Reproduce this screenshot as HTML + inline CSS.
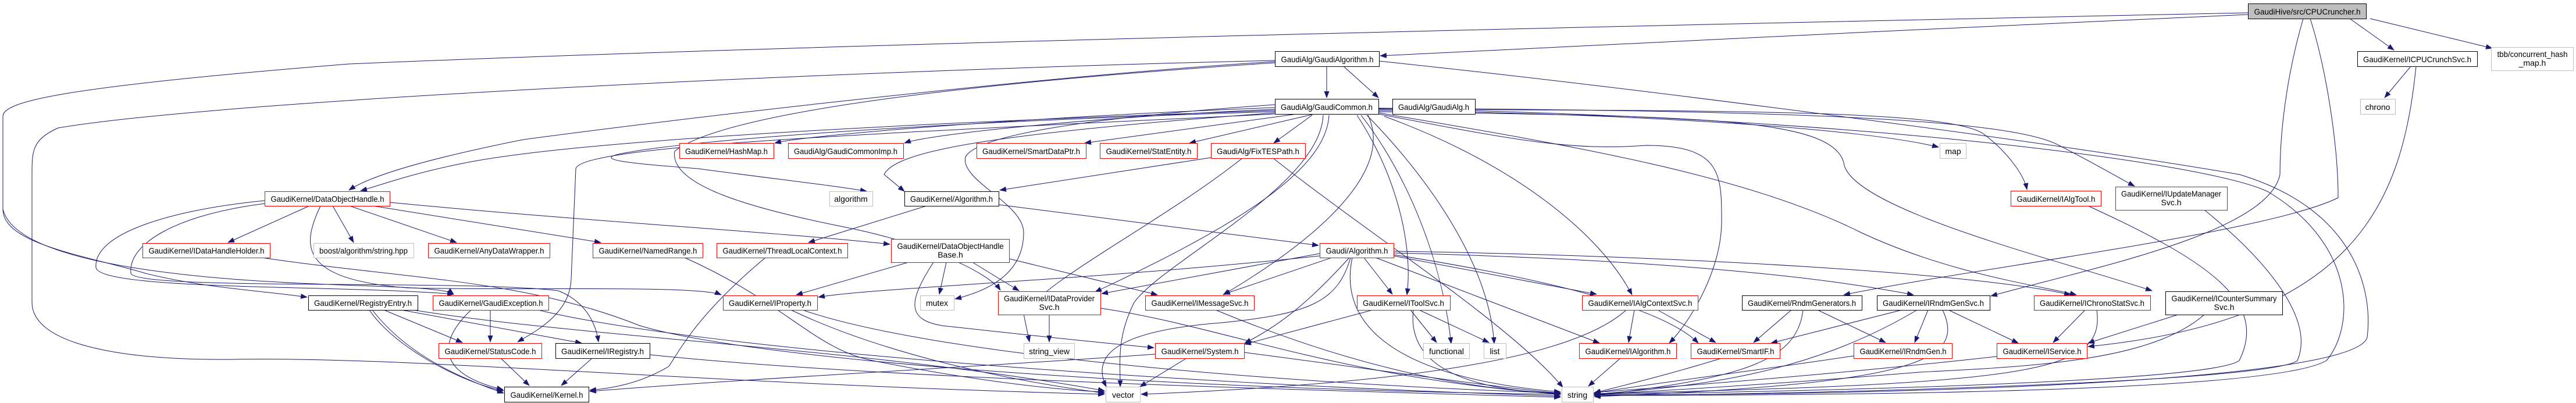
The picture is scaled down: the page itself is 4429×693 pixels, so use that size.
<!DOCTYPE html>
<html><head><meta charset="utf-8"><style>html,body{margin:0;padding:0;background:#fff}svg{display:block}</style></head><body>
<svg width="4429" height="693" viewBox="0 0 4429 693" xmlns="http://www.w3.org/2000/svg" font-family="Liberation Sans, sans-serif" font-size="14">
<defs><marker id="a" markerUnits="userSpaceOnUse" markerWidth="12" markerHeight="9" refX="11" refY="4.5" orient="auto"><path d="M0,0 L12,4.5 L0,9 z" fill="#191970"/></marker></defs>
<g fill="none" stroke="#191970" stroke-width="1" marker-end="url(#a)">
<path d="M3865,25 C3400,45 2700,80 2373,96"/>
<path d="M3865,22 C3000,40 1500,72 600,110 C100,150 5,175 5,200 L5,360 C5,420 150,440 250,470 C350,495 450,500 528,511"/>
<path d="M5,360 C20,420 150,460 400,480 C600,495 760,490 780,506"/>
<path d="M4040,32 L4116,86"/>
<path d="M4075,32 L4285,83"/>
<path d="M3960,32 C3940,100 3920,200 3920,300 C3900,400 3600,460 3423,509"/>
<path d="M3972,32 C4000,120 4020,250 4020,340 C3900,400 3400,460 3170,507"/>
<path d="M4145,114 L4100,168"/>
<path d="M4154,114 C4130,350 4050,550 3590,596"/>
<path d="M2281,114 L2281,168"/>
<path d="M2310,114 L2370,168"/>
<path d="M2371,105 C2800,150 3500,240 3850,300 C4050,360 4080,500 4070,580 C4050,660 3200,680 2741,679"/>
<path d="M2192,104 C1500,120 400,170 100,220 C55,240 55,260 55,300 L55,520 C55,590 200,620 400,618 C700,612 1200,660 1899,678"/>
<path d="M2192,106 C1800,130 1200,200 900,240 C750,270 640,300 600,327"/>
<path d="M2192,108 C1700,140 1250,190 1160,260 C1150,320 1300,360 1450,390 C1600,420 1700,470 1720,499"/>
<path d="M2192,185 C1800,200 1400,230 1332,246"/>
<path d="M2192,188 C1900,200 1600,230 1555,246"/>
<path d="M2230,196 L1865,246"/>
<path d="M2260,196 L2045,246"/>
<path d="M2256,198 L2190,246"/>
<path d="M2192,190 C1600,210 1000,240 800,280 C700,300 650,320 620,328"/>
<path d="M2192,192 C1600,210 1200,240 1080,262 C1000,275 1100,282 1200,290 C1350,310 1440,320 1490,329"/>
<path d="M2192,194 C1700,230 1540,260 1520,300 L1555,329"/>
<path d="M2192,196 C1500,230 1000,250 990,290 L982,480 C980,540 920,570 890,588"/>
<path d="M2285,198 C2280,300 2100,400 1883,502"/>
<path d="M2352,198 C2400,300 2250,420 2103,507"/>
<path d="M2275,198 C2270,320 2000,450 1950,520 C1920,580 1926,620 1926,665"/>
<path d="M2333,198 C2400,300 2430,420 2419,507"/>
<path d="M2340,198 C2420,300 2480,450 2495,591"/>
<path d="M2350,198 C2450,300 2560,450 2569,591"/>
<path d="M2380,200 C2600,280 2750,400 2806,507"/>
<path d="M2370,196 C2600,240 2700,260 2830,250 C2960,250 2960,300 2960,380 C2960,470 2900,560 2870,590"/>
<path d="M2370,190 C2800,195 3200,220 3333,253"/>
<path d="M2370,188 C3000,190 3350,190 3410,230 C3450,260 3480,300 3485,326"/>
<path d="M2370,186 C3000,190 3450,200 3540,250 C3600,280 3650,310 3670,320"/>
<path d="M2370,192 C2900,200 3150,200 3170,280 C3180,360 3550,450 3700,500"/>
<path d="M2370,194 C2700,250 3000,300 3200,400 C3350,470 3500,490 3570,507"/>
<path d="M2370,187 C3200,200 3800,280 3900,330 C4050,420 4050,560 4000,620 C3900,680 3000,680 2741,680"/>
<path d="M2192,180 C1900,200 1680,230 1660,270 C1650,310 1760,350 1760,400 C1760,470 1700,500 1642,514"/>
<path d="M2082,271 L1719,327"/>
<path d="M2189,272 C2350,400 2600,560 2687,666"/>
<path d="M2136,272 C2000,380 1800,480 1760,540 L1770,588"/>
<path d="M1593,354 L1390,417"/>
<path d="M1717,352 L2267,422"/>
<path d="M532,354 L392,417"/>
<path d="M572,354 L608,417"/>
<path d="M601,354 L785,417"/>
<path d="M641,354 L1033,417"/>
<path d="M670,348 C1000,380 1350,400 1530,420"/>
<path d="M455,345 C300,360 160,400 165,460 C170,500 600,490 780,506"/>
<path d="M455,350 C300,370 220,420 225,470 C235,500 800,480 960,500 C1010,520 1025,560 1029,588"/>
<path d="M551,354 C520,420 510,480 700,495 C900,500 1200,490 1240,507"/>
<path d="M450,443 C700,480 900,480 1100,560 C1300,620 2000,670 2683,678"/>
<path d="M1177,443 C1350,520 1400,600 1500,620 C1650,650 1800,670 1899,674"/>
<path d="M1316,443 C1200,540 1170,600 1150,630 C1100,660 1050,668 1014,671"/>
<path d="M660,533 L795,589"/>
<path d="M690,533 L1000,590"/>
<path d="M635,533 C680,600 800,660 866,672"/>
<path d="M640,533 C700,610 790,650 866,676"/>
<path d="M710,533 C1000,580 1500,600 1899,672"/>
<path d="M843,533 L843,588"/>
<path d="M810,533 C760,580 740,640 865,670"/>
<path d="M925,533 C1200,600 2000,660 2683,681"/>
<path d="M861,616 L910,663"/>
<path d="M1018,616 L965,663"/>
<path d="M1117,610 C1500,650 2200,670 2683,683"/>
<path d="M1360,533 C1500,600 1700,650 1899,676"/>
<path d="M1380,533 C1600,610 2200,660 2683,676"/>
<path d="M1986,609 C1700,630 1300,650 1014,673"/>
<path d="M1627,451 L1615,506"/>
<path d="M1672,451 L1752,500"/>
<path d="M1735,445 L1990,507"/>
<path d="M1605,451 C1560,520 1560,550 1620,560 C1800,580 1900,590 1984,598"/>
<path d="M1562,451 L1369,507"/>
<path d="M1804,541 L1804,588"/>
<path d="M1892,530 C2100,560 2300,650 2683,678"/>
<path d="M2090,533 C2300,620 2500,670 2683,676"/>
<path d="M2040,616 L1960,665"/>
<path d="M2139,606 C2400,640 2600,670 2683,676"/>
<path d="M2269,436 L1894,505"/>
<path d="M2290,443 L2104,506"/>
<path d="M2345,443 L2394,506"/>
<path d="M2396,440 L2745,506"/>
<path d="M2365,443 L2750,590"/>
<path d="M2320,443 C2250,520 2200,560 2140,590"/>
<path d="M2322,443 C2300,520 2250,540 2100,555 C1900,570 1880,620 1902,665"/>
<path d="M2325,443 C2300,560 2400,650 2683,674"/>
<path d="M2269,440 C1900,480 1500,495 1407,511"/>
<path d="M2396,432 C2900,440 3400,470 3560,507"/>
<path d="M2396,435 C2800,445 3100,470 3290,507"/>
<path d="M2396,438 C2600,470 2850,520 2920,590"/>
<path d="M2360,533 L2140,592"/>
<path d="M2425,533 L2470,589"/>
<path d="M2440,533 L2560,589"/>
<path d="M2430,533 C2420,620 2500,670 2683,677"/>
<path d="M2810,533 L2800,589"/>
<path d="M2850,533 L2950,589"/>
<path d="M2796,533 C2700,620 2400,660 1962,678"/>
<path d="M2786,616 L2731,664"/>
<path d="M2960,616 C2850,650 2760,670 2741,676"/>
<path d="M3080,533 L3015,589"/>
<path d="M3125,533 L3242,589"/>
<path d="M3100,533 C3090,620 3000,650 2741,680"/>
<path d="M3270,533 L3045,590"/>
<path d="M3315,533 L3292,589"/>
<path d="M3350,533 L3470,590"/>
<path d="M3296,533 C3100,650 2900,665 2741,678"/>
<path d="M3340,533 C3380,620 3300,660 2741,682"/>
<path d="M3585,533 L3530,589"/>
<path d="M3605,533 C3620,640 3500,660 2741,677"/>
<path d="M3745,541 L3590,590"/>
<path d="M3790,541 C3700,620 3500,630 3300,640 C3000,665 2800,675 2741,678"/>
<path d="M3433,613 C3100,650 2800,670 2741,675"/>
<path d="M3187,612 C3000,640 2800,665 2741,676"/>
<path d="M3590,354 C3800,450 3900,520 3850,620 C3800,660 3000,675 2741,678"/>
<path d="M3790,361 C3900,450 3980,550 3950,620 C3900,660 3000,680 2741,680"/>
</g>
<g stroke-width="1" text-anchor="middle" fill="#000">
<g fill="#fff">
<rect x="3865.5" y="6.5" width="203" height="26" fill="#bfbfbf" stroke="#000"/>
<rect x="2192.5" y="88.5" width="179" height="26" stroke="#000"/>
<rect x="2192.5" y="170.5" width="178" height="26" stroke="#000"/>
<rect x="2394.5" y="170.5" width="142" height="26" stroke="#000"/>
<rect x="4053.5" y="88.5" width="206" height="26" stroke="#000"/>
<rect x="4283.5" y="81.5" width="141" height="40" stroke="#bfbfbf"/>
<rect x="4058.5" y="170.5" width="60" height="26" stroke="#bfbfbf"/>
<rect x="1168.5" y="246.5" width="162" height="26" stroke="#f00"/>
<rect x="1355.5" y="246.5" width="198" height="26" stroke="#f00"/>
<rect x="1679.5" y="246.5" width="188" height="26" stroke="#f00"/>
<rect x="1891.5" y="246.5" width="167" height="26" stroke="#f00"/>
<rect x="2082.5" y="246.5" width="162" height="26" stroke="#f00"/>
<rect x="3335.5" y="246.5" width="45" height="26" stroke="#bfbfbf"/>
<rect x="455.5" y="329.5" width="215" height="25" stroke="#f00"/>
<rect x="1426.5" y="329.5" width="74" height="25" stroke="#bfbfbf"/>
<rect x="1555.5" y="329.5" width="162" height="25" stroke="#000"/>
<rect x="3457.5" y="328.5" width="155" height="26" stroke="#f00"/>
<rect x="3637.5" y="321.5" width="192" height="40" stroke="#f00"/>
<rect x="245.5" y="418.5" width="219" height="25" stroke="#f00"/>
<rect x="539.5" y="418.5" width="172" height="25" stroke="#bfbfbf"/>
<rect x="736.5" y="418.5" width="209" height="25" stroke="#f00"/>
<rect x="1019.5" y="418.5" width="189" height="25" stroke="#f00"/>
<rect x="1232.5" y="418.5" width="225" height="25" stroke="#f00"/>
<rect x="1532.5" y="411.5" width="203" height="40" stroke="#f00"/>
<rect x="2269.5" y="418.5" width="127" height="25" stroke="#f00"/>
<rect x="530.5" y="508.5" width="188" height="25" stroke="#000"/>
<rect x="744.5" y="508.5" width="199" height="25" stroke="#f00"/>
<rect x="1243.5" y="508.5" width="162" height="25" stroke="#f00"/>
<rect x="1582.5" y="508.5" width="58" height="25" stroke="#bfbfbf"/>
<rect x="1716.5" y="501.5" width="176" height="40" stroke="#f00"/>
<rect x="1969.5" y="508.5" width="187" height="25" stroke="#f00"/>
<rect x="2333.5" y="508.5" width="160" height="25" stroke="#f00"/>
<rect x="2720.5" y="508.5" width="199" height="25" stroke="#f00"/>
<rect x="2995.5" y="508.5" width="206" height="25" stroke="#000"/>
<rect x="3227.5" y="508.5" width="194" height="25" stroke="#000"/>
<rect x="3497.5" y="508.5" width="200" height="25" stroke="#f00"/>
<rect x="3723.5" y="501.5" width="201" height="40" stroke="#000"/>
<rect x="754.5" y="590.5" width="177" height="26" stroke="#f00"/>
<rect x="955.5" y="590.5" width="162" height="26" stroke="#000"/>
<rect x="1760.5" y="590.5" width="87" height="26" stroke="#bfbfbf"/>
<rect x="1986.5" y="590.5" width="153" height="26" stroke="#f00"/>
<rect x="2447.5" y="590.5" width="79" height="26" stroke="#bfbfbf"/>
<rect x="2551.5" y="590.5" width="38" height="26" stroke="#bfbfbf"/>
<rect x="2715.5" y="590.5" width="167" height="26" stroke="#f00"/>
<rect x="2907.5" y="590.5" width="153" height="26" stroke="#f00"/>
<rect x="3187.5" y="590.5" width="169" height="26" stroke="#f00"/>
<rect x="3433.5" y="590.5" width="155" height="26" stroke="#f00"/>
<rect x="867.5" y="665.5" width="145" height="26" stroke="#000"/>
<rect x="1901.5" y="665.5" width="59" height="26" stroke="#bfbfbf"/>
<rect x="2685.5" y="665.5" width="54" height="26" stroke="#bfbfbf"/>
</g>
<g lengthAdjust="spacingAndGlyphs">
<text x="3967" y="25" textLength="183" lengthAdjust="spacingAndGlyphs">GaudiHive/src/CPUCruncher.h</text>
<text x="2282" y="107" textLength="159" lengthAdjust="spacingAndGlyphs">GaudiAlg/GaudiAlgorithm.h</text>
<text x="2281" y="189" textLength="158" lengthAdjust="spacingAndGlyphs">GaudiAlg/GaudiCommon.h</text>
<text x="2465" y="189" textLength="122" lengthAdjust="spacingAndGlyphs">GaudiAlg/GaudiAlg.h</text>
<text x="4156" y="107" textLength="186" lengthAdjust="spacingAndGlyphs">GaudiKernel/ICPUCrunchSvc.h</text>
<text x="4354" y="98" textLength="121" lengthAdjust="spacingAndGlyphs">tbb/concurrent_hash</text>
<text x="4354" y="113">_map.h</text>
<text x="4088" y="189">chrono</text>
<text x="1249" y="265" textLength="142" lengthAdjust="spacingAndGlyphs">GaudiKernel/HashMap.h</text>
<text x="1454" y="265" textLength="178" lengthAdjust="spacingAndGlyphs">GaudiAlg/GaudiCommonImp.h</text>
<text x="1773" y="265" textLength="168" lengthAdjust="spacingAndGlyphs">GaudiKernel/SmartDataPtr.h</text>
<text x="1975" y="265" textLength="147" lengthAdjust="spacingAndGlyphs">GaudiKernel/StatEntity.h</text>
<text x="2163" y="265" textLength="142" lengthAdjust="spacingAndGlyphs">GaudiAlg/FixTESPath.h</text>
<text x="3358" y="265">map</text>
<text x="563" y="347" textLength="195" lengthAdjust="spacingAndGlyphs">GaudiKernel/DataObjectHandle.h</text>
<text x="1463" y="347">algorithm</text>
<text x="1636" y="347" textLength="142" lengthAdjust="spacingAndGlyphs">GaudiKernel/Algorithm.h</text>
<text x="3535" y="347" textLength="135" lengthAdjust="spacingAndGlyphs">GaudiKernel/IAlgTool.h</text>
<text x="3733" y="338" textLength="172" lengthAdjust="spacingAndGlyphs">GaudiKernel/IUpdateManager</text>
<text x="3733" y="353">Svc.h</text>
<text x="355" y="436" textLength="199" lengthAdjust="spacingAndGlyphs">GaudiKernel/IDataHandleHolder.h</text>
<text x="625" y="436" textLength="152" lengthAdjust="spacingAndGlyphs">boost/algorithm/string.hpp</text>
<text x="841" y="436" textLength="189" lengthAdjust="spacingAndGlyphs">GaudiKernel/AnyDataWrapper.h</text>
<text x="1114" y="436" textLength="169" lengthAdjust="spacingAndGlyphs">GaudiKernel/NamedRange.h</text>
<text x="1345" y="436" textLength="205" lengthAdjust="spacingAndGlyphs">GaudiKernel/ThreadLocalContext.h</text>
<text x="1634" y="428" textLength="183" lengthAdjust="spacingAndGlyphs">GaudiKernel/DataObjectHandle</text>
<text x="1634" y="443">Base.h</text>
<text x="2333" y="436" textLength="107" lengthAdjust="spacingAndGlyphs">Gaudi/Algorithm.h</text>
<text x="624" y="526" textLength="168" lengthAdjust="spacingAndGlyphs">GaudiKernel/RegistryEntry.h</text>
<text x="844" y="526" textLength="179" lengthAdjust="spacingAndGlyphs">GaudiKernel/GaudiException.h</text>
<text x="1324" y="526" textLength="142" lengthAdjust="spacingAndGlyphs">GaudiKernel/IProperty.h</text>
<text x="1611" y="526">mutex</text>
<text x="1804" y="518" textLength="156" lengthAdjust="spacingAndGlyphs">GaudiKernel/IDataProvider</text>
<text x="1804" y="533">Svc.h</text>
<text x="2063" y="526" textLength="167" lengthAdjust="spacingAndGlyphs">GaudiKernel/IMessageSvc.h</text>
<text x="2413" y="526" textLength="140" lengthAdjust="spacingAndGlyphs">GaudiKernel/IToolSvc.h</text>
<text x="2820" y="526" textLength="179" lengthAdjust="spacingAndGlyphs">GaudiKernel/IAlgContextSvc.h</text>
<text x="3098" y="526" textLength="186" lengthAdjust="spacingAndGlyphs">GaudiKernel/RndmGenerators.h</text>
<text x="3324" y="526" textLength="174" lengthAdjust="spacingAndGlyphs">GaudiKernel/IRndmGenSvc.h</text>
<text x="3597" y="526" textLength="180" lengthAdjust="spacingAndGlyphs">GaudiKernel/IChronoStatSvc.h</text>
<text x="3824" y="518" textLength="181" lengthAdjust="spacingAndGlyphs">GaudiKernel/ICounterSummary</text>
<text x="3824" y="533">Svc.h</text>
<text x="843" y="609" textLength="157" lengthAdjust="spacingAndGlyphs">GaudiKernel/StatusCode.h</text>
<text x="1036" y="609" textLength="142" lengthAdjust="spacingAndGlyphs">GaudiKernel/IRegistry.h</text>
<text x="1804" y="609">string_view</text>
<text x="2063" y="609" textLength="133" lengthAdjust="spacingAndGlyphs">GaudiKernel/System.h</text>
<text x="2487" y="609">functional</text>
<text x="2570" y="609">list</text>
<text x="2799" y="609" textLength="147" lengthAdjust="spacingAndGlyphs">GaudiKernel/IAlgorithm.h</text>
<text x="2984" y="609" textLength="133" lengthAdjust="spacingAndGlyphs">GaudiKernel/SmartIF.h</text>
<text x="3272" y="609" textLength="149" lengthAdjust="spacingAndGlyphs">GaudiKernel/IRndmGen.h</text>
<text x="3511" y="609" textLength="135" lengthAdjust="spacingAndGlyphs">GaudiKernel/IService.h</text>
<text x="940" y="684" textLength="125" lengthAdjust="spacingAndGlyphs">GaudiKernel/Kernel.h</text>
<text x="1931" y="684">vector</text>
<text x="2712" y="684">string</text>
</g>
</g>
</svg>
</body></html>
